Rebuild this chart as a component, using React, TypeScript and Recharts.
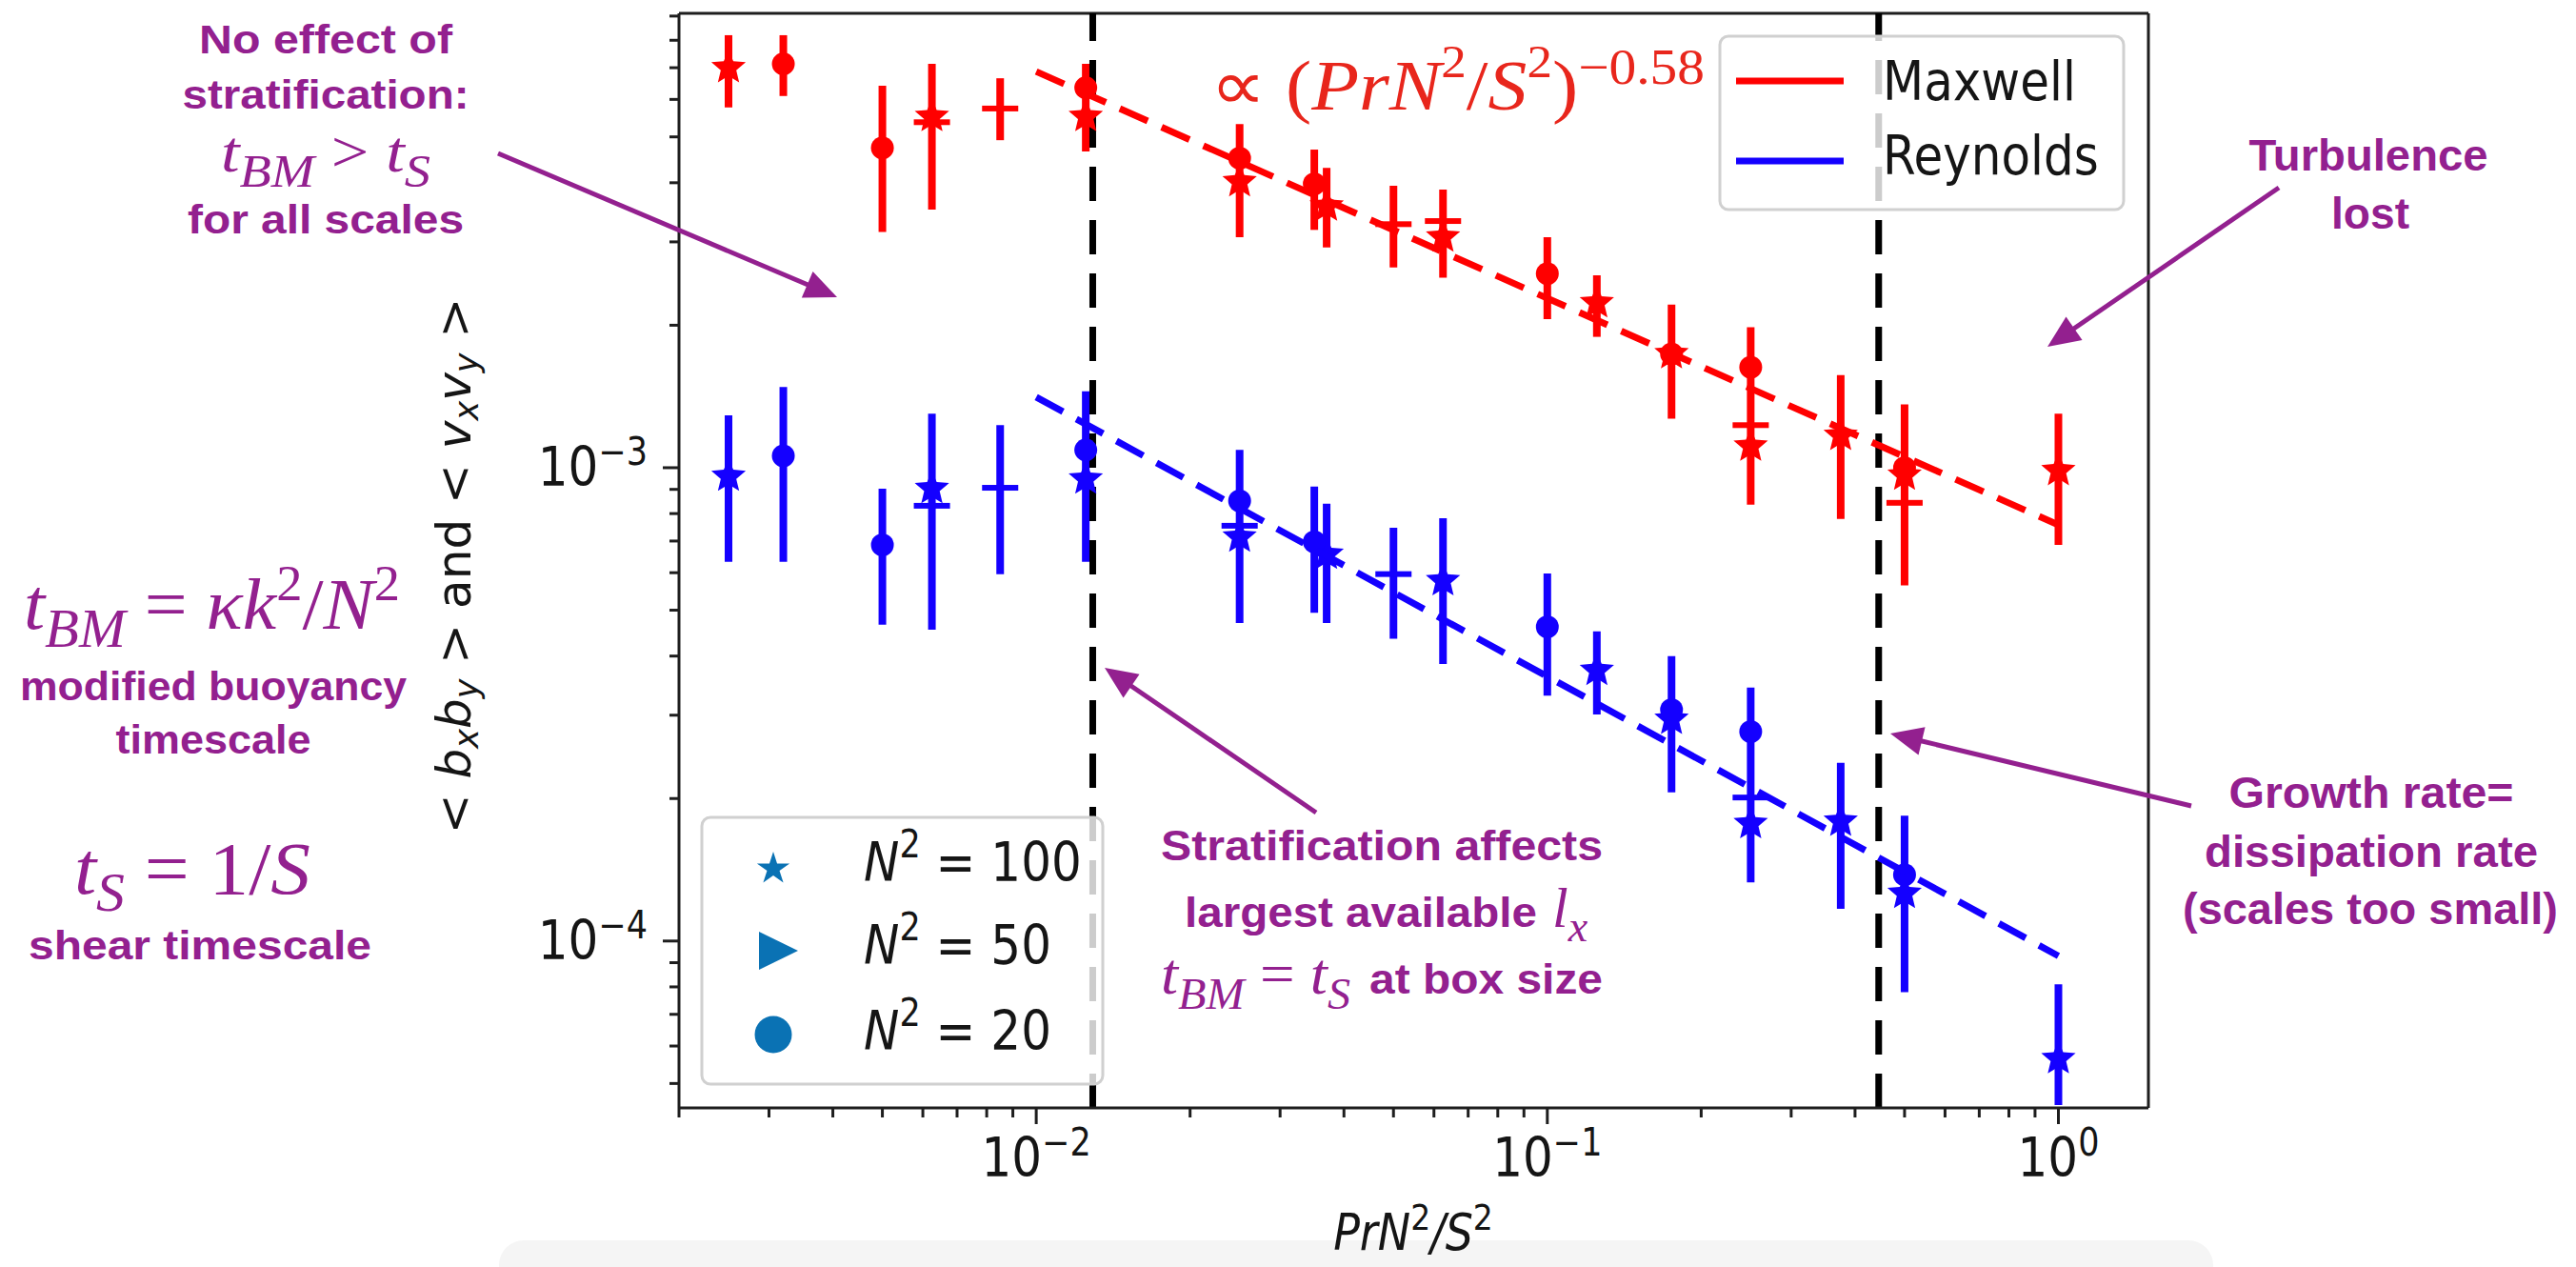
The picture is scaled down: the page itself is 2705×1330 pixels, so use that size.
import React from "react";
import { ComposedChart, Scatter, XAxis, YAxis, ErrorBar, ReferenceLine } from "recharts";

// axis ranges and tick values (log axes)
const xDomain: [number, number] = [0.002, 1.5];
const yDomain: [number, number] = [4.44e-5, 9.12e-3];
const xTicks = [
  0.002, 0.003, 0.004, 0.005, 0.006, 0.007, 0.008, 0.009, 0.01,
  0.02, 0.03, 0.04, 0.05, 0.06, 0.07, 0.08, 0.09, 0.1,
  0.2, 0.3, 0.4, 0.5, 0.6, 0.7, 0.8, 0.9, 1,
];
const yTicks = [
  5e-5, 6e-5, 7e-5, 8e-5, 9e-5, 1e-4,
  2e-4, 3e-4, 4e-4, 5e-4, 6e-4, 7e-4, 8e-4, 9e-4, 1e-3,
  2e-3, 3e-3, 4e-3, 5e-3, 6e-3, 7e-3, 8e-3, 9e-3,
];

// x positions of the error bars (Pr N^2 / S^2)
const ratio = [0.0025, 0.0032, 0.005, 0.00625, 0.0085, 0.0125, 0.025, 0.035, 0.037, 0.05, 0.0625, 0.1, 0.125, 0.175, 0.25, 0.375, 0.5, 1.0];
const maxwellLow = [5.77e-3, 6.1e-3, 3.15e-3, 3.51e-3, 4.92e-3, 4.66e-3, 3.07e-3, 3.18e-3, 2.92e-3, 2.65e-3, 2.52e-3, 2.06e-3, 1.89e-3, 1.27e-3, 8.35e-4, 7.79e-4, 5.64e-4, 6.87e-4];
const maxwellHigh = [8.2e-3, 8.2e-3, 6.41e-3, 7.13e-3, 6.65e-3, 7.13e-3, 5.32e-3, 4.7e-3, 4.3e-3, 3.94e-3, 3.87e-3, 3.07e-3, 2.55e-3, 2.21e-3, 1.98e-3, 1.57e-3, 1.36e-3, 1.3e-3];
const reynoldsLow = [6.33e-4, 6.33e-4, 4.66e-4, 4.55e-4, 5.96e-4, 6.33e-4, 4.7e-4, 4.94e-4, 4.7e-4, 4.35e-4, 3.85e-4, 3.3e-4, 3.01e-4, 2.06e-4, 1.33e-4, 1.17e-4, 7.8e-5, 4.5e-5];
const reynoldsHigh = [1.29e-3, 1.48e-3, 9.03e-4, 1.3e-3, 1.23e-3, 1.45e-3, 1.09e-3, 9.12e-4, 8.39e-4, 7.47e-4, 7.82e-4, 5.98e-4, 4.51e-4, 4e-4, 3.43e-4, 2.38e-4, 1.84e-4, 8.1e-5];

// markers: stars N^2=100, dashes N^2=50, circles N^2=20
const maxwellStars = [
  { x: 0.0025, y: 7.0e-3 }, { x: 0.00625, y: 5.52e-3 }, { x: 0.0125, y: 5.52e-3 }, { x: 0.025, y: 4.02e-3 },
  { x: 0.037, y: 3.57e-3 }, { x: 0.0625, y: 3.07e-3 }, { x: 0.125, y: 2.23e-3 }, { x: 0.175, y: 1.74e-3 },
  { x: 0.25, y: 1.11e-3 }, { x: 0.375, y: 1.17e-3 }, { x: 0.5, y: 9.64e-4 }, { x: 1.0, y: 9.86e-4 },
];
const maxwellCircles = [
  { x: 0.0032, y: 7.13e-3 }, { x: 0.005, y: 4.74e-3 }, { x: 0.0125, y: 6.35e-3 }, { x: 0.025, y: 4.51e-3 },
  { x: 0.035, y: 3.98e-3 }, { x: 0.1, y: 2.57e-3 }, { x: 0.175, y: 1.74e-3 }, { x: 0.25, y: 1.63e-3 }, { x: 0.5, y: 1.0e-3 },
];
const maxwellDashes = [
  { x: 0.00625, y: 5.37e-3 }, { x: 0.0085, y: 5.74e-3 }, { x: 0.05, y: 3.27e-3 }, { x: 0.0625, y: 3.32e-3 },
  { x: 0.25, y: 1.23e-3 }, { x: 0.5, y: 8.43e-4 },
];
const reynoldsStars = [
  { x: 0.0025, y: 9.59e-4 }, { x: 0.00625, y: 9.03e-4 }, { x: 0.0125, y: 9.46e-4 }, { x: 0.025, y: 7.13e-4 },
  { x: 0.037, y: 6.56e-4 }, { x: 0.0625, y: 5.77e-4 }, { x: 0.125, y: 3.73e-4 }, { x: 0.175, y: 2.94e-4 },
  { x: 0.25, y: 1.77e-4 }, { x: 0.375, y: 1.79e-4 }, { x: 0.5, y: 1.26e-4 }, { x: 1.0, y: 5.64e-5 },
];
const reynoldsCircles = [
  { x: 0.0032, y: 1.06e-3 }, { x: 0.005, y: 6.87e-4 }, { x: 0.0125, y: 1.09e-3 }, { x: 0.025, y: 8.51e-4 },
  { x: 0.035, y: 6.97e-4 }, { x: 0.1, y: 4.61e-4 }, { x: 0.175, y: 3.08e-4 }, { x: 0.25, y: 2.77e-4 }, { x: 0.5, y: 1.38e-4 },
];
const reynoldsDashes = [
  { x: 0.00625, y: 8.31e-4 }, { x: 0.0085, y: 9.07e-4 }, { x: 0.025, y: 7.54e-4 }, { x: 0.05, y: 5.96e-4 }, { x: 0.25, y: 2.01e-4 },
];

// power-law fits and regime boundaries
const maxwellFit = [{ x: 0.01, y: 6.87e-3 }, { x: 1, y: 7.57e-4 }];
const reynoldsFit = [{ x: 0.01, y: 1.41e-3 }, { x: 1, y: 9.3e-5 }];
const regimeBounds = [0.0129, 0.445];

const RED = "#ff0000";
const BLUE = "#1400ff";
const PURPLE = "#93208f";
const LEGEND_BLUE = "#0a72b4";
const AXIS = "#1e1e1e";

const toBars = (lo: number[], hi: number[]) =>
  ratio.map((x, i) => {
    const y = Math.sqrt(lo[i] * hi[i]);
    return { x, y, err: [y - lo[i], hi[i] - y] };
  });

const starPath = (cx: number, cy: number, R: number, k = 0.382) => {
  const r = R * k;
  const pts: string[] = [];
  for (let i = 0; i < 10; i++) {
    const a = -Math.PI / 2 + (i * Math.PI) / 5;
    const rr = i % 2 === 0 ? R : r;
    pts.push(`${cx + rr * Math.cos(a)},${cy + rr * Math.sin(a)}`);
  }
  return "M" + pts.join("L") + "Z";
};

const starShape = (color: string) => (p: any) => <path d={starPath(p.cx, p.cy, 19, 0.45)} fill={color} />;
const circleShape = (color: string) => (p: any) => <circle cx={p.cx} cy={p.cy} r={12} fill={color} />;
const dashShape = (color: string) => (p: any) => <rect x={p.cx - 19} y={p.cy - 3} width={38} height={6} fill={color} />;
const noShape = () => <g />;

const MplText = ({ x, y, anchor = "start", size = 50, children }: any) => (
  <text transform={`translate(${x},${y}) scale(1,1.15)`} textAnchor={anchor} fontFamily="'DejaVu Sans', sans-serif" fontSize={size} fill="#151515">
    {children}
  </text>
);

const isMajor = (v: number) => Math.abs(Math.log10(v) - Math.round(Math.log10(v))) < 1e-6;
const expLabel = (v: number) => {
  const e = Math.round(Math.log10(v));
  return e < 0 ? "\u2212" + Math.abs(e) : String(e);
};

const XTick = (props: any) => {
  const { x, y, payload } = props;
  const major = isMajor(payload.value);
  return (
    <g>
      <line x1={x} x2={x} y1={y} y2={y + (major ? 17 : 10)} stroke={AXIS} strokeWidth={3} />
      {major && (
        <MplText x={x} y={y + 72} anchor="middle">
          10<tspan dy={-19} fontSize={35}>{expLabel(payload.value)}</tspan>
        </MplText>
      )}
    </g>
  );
};

const YTick = (props: any) => {
  const { x, y, payload } = props;
  const major = isMajor(payload.value);
  return (
    <g>
      <line x1={x} x2={x - (major ? 17 : 10)} y1={y} y2={y} stroke={AXIS} strokeWidth={3} />
      {major && (
        <MplText x={x - 33} y={y + 19} anchor="end">
          10<tspan dy={-19} fontSize={35}>{expLabel(payload.value)}</tspan>
        </MplText>
      )}
    </g>
  );
};

const Arrow = ({ x1, y1, x2, y2 }: any) => {
  const dx = x2 - x1, dy = y2 - y1;
  const L = Math.hypot(dx, dy);
  const ux = dx / L, uy = dy / L;
  const hl = 34, hw = 15;
  const bx = x2 - ux * hl, by = y2 - uy * hl;
  return (
    <g>
      <line x1={x1} y1={y1} x2={bx + ux * 4} y2={by + uy * 4} stroke={PURPLE} strokeWidth={5} />
      <polygon points={`${x2},${y2} ${bx - uy * hw},${by + ux * hw} ${bx + uy * hw},${by - ux * hw}`} fill={PURPLE} />
    </g>
  );
};

const Note = ({ x, y, w, size = 42, anchor = "middle", children }: any) => (
  <text x={x} y={y} textAnchor={anchor} textLength={w} lengthAdjust="spacingAndGlyphs" fontFamily="'Liberation Sans', Arial, sans-serif" fontWeight={700} fontSize={size} fill={PURPLE}>
    {children}
  </text>
);

const SERIF = "'Liberation Serif', 'Times New Roman', serif";

export default function App() {
  const maxwellBars = toBars(maxwellLow, maxwellHigh);
  const reynoldsBars = toBars(reynoldsLow, reynoldsHigh);

  return (
    <div style={{ position: "absolute", left: 0, top: 0, width: 2705, height: 1330, background: "#fff", overflow: "hidden" }}>
      <svg width={2705} height={1330} style={{ position: "absolute", left: 0, top: 0 }}>
        <rect x={524} y={1302} width={1800} height={80} rx={26} fill="#f5f5f5" />
      </svg>
      <div style={{ position: "absolute", left: 0, top: 0 }}>
        <ComposedChart width={2705} height={1330} margin={{ top: 14, right: 449, left: 613, bottom: 107 }}>
          <XAxis
            dataKey="x"
            type="number"
            scale="log"
            domain={xDomain}
            allowDataOverflow
            ticks={xTicks}
            interval={0}
            tick={<XTick />}
            tickLine={false}
            tickSize={0}
            tickMargin={0}
            height={60}
            axisLine={{ stroke: AXIS, strokeWidth: 3 }}
          />
          <YAxis
            dataKey="y"
            type="number"
            scale="log"
            domain={yDomain}
            allowDataOverflow
            ticks={yTicks}
            interval={0}
            tick={<YTick />}
            tickLine={false}
            tickSize={0}
            tickMargin={0}
            width={100}
            axisLine={{ stroke: AXIS, strokeWidth: 3 }}
          />
          <ReferenceLine y={yDomain[1]} stroke={AXIS} strokeWidth={3} />
          <ReferenceLine x={xDomain[1]} stroke={AXIS} strokeWidth={3} />

          <Scatter data={maxwellBars} fill={RED} shape={noShape} isAnimationActive={false} legendType="none">
            <ErrorBar dataKey="err" direction="y" width={0} stroke={RED} strokeWidth={8} isAnimationActive={false} />
          </Scatter>
          <Scatter data={reynoldsBars} fill={BLUE} shape={noShape} isAnimationActive={false} legendType="none">
            <ErrorBar dataKey="err" direction="y" width={0} stroke={BLUE} strokeWidth={8} isAnimationActive={false} />
          </Scatter>

          <Scatter data={maxwellStars} shape={starShape(RED)} isAnimationActive={false} />
          <Scatter data={maxwellCircles} shape={circleShape(RED)} isAnimationActive={false} />
          <Scatter data={maxwellDashes} shape={dashShape(RED)} isAnimationActive={false} />
          <Scatter data={reynoldsStars} shape={starShape(BLUE)} isAnimationActive={false} />
          <Scatter data={reynoldsCircles} shape={circleShape(BLUE)} isAnimationActive={false} />
          <Scatter data={reynoldsDashes} shape={dashShape(BLUE)} isAnimationActive={false} />

          <Scatter data={maxwellFit} fill={RED} shape={noShape} line={{ stroke: RED, strokeWidth: 7, strokeDasharray: "32 16" }} isAnimationActive={false} />
          <Scatter data={reynoldsFit} fill={BLUE} shape={noShape} line={{ stroke: BLUE, strokeWidth: 7, strokeDasharray: "32 16" }} isAnimationActive={false} />

          {regimeBounds.map((b) => (
            <ReferenceLine key={b} x={b} stroke="#000" strokeWidth={7} strokeDasharray="36 20" />
          ))}
        </ComposedChart>
      </div>

      <svg width={2705} height={1330} style={{ position: "absolute", left: 0, top: 0, pointerEvents: "none" }}>
        {/* axis labels */}
        <text transform="translate(494,594) rotate(-90)" textAnchor="middle" fontFamily="'DejaVu Sans', sans-serif" fontSize={50} fill="#151515">
          {"< "}<tspan fontStyle="italic">b</tspan><tspan fontStyle="italic" fontSize={35} dy={8}>x</tspan>
          <tspan fontStyle="italic" dy={-8}>b</tspan><tspan fontStyle="italic" fontSize={35} dy={8}>y</tspan>
          <tspan dy={-8}>{" > and < "}</tspan><tspan fontStyle="italic">v</tspan><tspan fontStyle="italic" fontSize={35} dy={8}>x</tspan>
          <tspan fontStyle="italic" dy={-8}>v</tspan><tspan fontStyle="italic" fontSize={35} dy={8}>y</tspan>
          <tspan dy={-8}>{" >"}</tspan>
        </text>
        <MplText x={1484} y={1312} anchor="middle" size={46}>
          <tspan fontStyle="italic">PrN</tspan><tspan fontSize={33} dy={-18}>2</tspan>
          <tspan fontStyle="italic" dy={18}>/S</tspan><tspan fontSize={33} dy={-18}>2</tspan>
        </MplText>

        {/* legend: field */}
        <rect x={1806} y={38} width={424} height={182} rx={9} fill="#fff" fillOpacity={0.8} stroke="#d0d0d0" strokeWidth={3} />
        <line x1={1823} x2={1936} y1={85} y2={85} stroke={RED} strokeWidth={7} />
        <line x1={1823} x2={1936} y1={169} y2={169} stroke={BLUE} strokeWidth={7} />
        <MplText x={1977} y={105}>Maxwell</MplText>
        <MplText x={1977} y={183}>Reynolds</MplText>

        {/* legend: stratification */}
        <rect x={737} y={858} width={421} height={280} rx={9} fill="#fff" fillOpacity={0.8} stroke="#d0d0d0" strokeWidth={3} />
        <path d={starPath(812, 912, 18)} fill={LEGEND_BLUE} />
        <polygon points="797,978 838,998 797,1018" fill={LEGEND_BLUE} />
        <circle cx={812} cy={1086} r={19.5} fill={LEGEND_BLUE} />
        {[["100", 925], ["50", 1012], ["20", 1102]].map(([v, y]) => (
          <MplText key={v} x={907} y={y}>
            <tspan fontStyle="italic">N</tspan><tspan fontSize={35} dy={-22}>2</tspan>
            <tspan dy={22}>{" = " + v}</tspan>
          </MplText>
        ))}

        {/* fit annotation */}
        <text x={1271} y={115} textLength={519} lengthAdjust="spacingAndGlyphs" fontFamily={SERIF} fontSize={74} fill="#e8261c">
          {"\u221D ("}<tspan fontStyle="italic">PrN</tspan><tspan fontSize={48} dy={-34}>2</tspan>
          <tspan dy={34}>/</tspan><tspan fontStyle="italic">S</tspan><tspan fontSize={48} dy={-34}>2</tspan>
          <tspan dy={34}>)</tspan><tspan fontSize={52} dy={-27}>{"\u22120.58"}</tspan>
        </text>

        {/* upper-left note */}
        <Note x={342} y={56} w={266}>No effect of</Note>
        <Note x={342} y={114} w={301}>stratification:</Note>
        <text x={342} y={180} textAnchor="middle" textLength={220} lengthAdjust="spacingAndGlyphs" fontFamily={SERIF} fontSize={62} fill={PURPLE}>
          <tspan fontStyle="italic">t</tspan><tspan fontStyle="italic" fontSize={48} dy={16}>BM</tspan>
          <tspan dy={-16}>{" > "}</tspan><tspan fontStyle="italic">t</tspan><tspan fontStyle="italic" fontSize={48} dy={16}>S</tspan>
        </text>
        <Note x={342} y={245} w={290}>for all scales</Note>
        <Arrow x1={523} y1={161} x2={879} y2={312} />

        {/* timescales on the left */}
        <text x={25} y={660} textLength={395} lengthAdjust="spacingAndGlyphs" fontFamily={SERIF} fontSize={76} fill={PURPLE}>
          <tspan fontStyle="italic">t</tspan><tspan fontStyle="italic" fontSize={56} dy={19}>BM</tspan>
          <tspan dy={-19}>{" = "}</tspan><tspan fontStyle="italic">{"\u03BAk"}</tspan><tspan fontSize={52} dy={-30}>2</tspan>
          <tspan dy={30}>/</tspan><tspan fontStyle="italic">N</tspan><tspan fontSize={52} dy={-30}>2</tspan>
        </text>
        <Note x={224} y={735} w={406}>modified buoyancy</Note>
        <Note x={224} y={791} w={205}>timescale</Note>
        <text x={78} y={938} textLength={248} lengthAdjust="spacingAndGlyphs" fontFamily={SERIF} fontSize={78} fill={PURPLE}>
          <tspan fontStyle="italic">t</tspan><tspan fontStyle="italic" fontSize={56} dy={18}>S</tspan>
          <tspan dy={-18}>{" = 1/"}</tspan><tspan fontStyle="italic">S</tspan>
        </text>
        <Note x={210} y={1007} w={360}>shear timescale</Note>

        {/* box-size note */}
        <Note x={1451} y={903} w={464} size={44}>Stratification affects</Note>
        <Note x={1244} y={973} w={370} size={44} anchor="start">largest available</Note>
        <text x={1630} y={973} fontFamily={SERIF} fontSize={60} fill={PURPLE}>
          <tspan fontStyle="italic">l</tspan><tspan fontStyle="italic" fontSize={46} dy={15}>x</tspan>
        </text>
        <text x={1219} y={1043} textLength={199} lengthAdjust="spacingAndGlyphs" fontFamily={SERIF} fontSize={62} fill={PURPLE}>
          <tspan fontStyle="italic">t</tspan><tspan fontStyle="italic" fontSize={46} dy={16}>BM</tspan>
          <tspan dy={-16}>{" = "}</tspan><tspan fontStyle="italic">t</tspan><tspan fontStyle="italic" fontSize={46} dy={16}>S</tspan>
        </text>
        <Note x={1438} y={1043} w={245} size={44} anchor="start">at box size</Note>
        <Arrow x1={1382} y1={853} x2={1160} y2={701} />

        {/* right notes */}
        <Note x={2487} y={179} w={251} size={46}>Turbulence</Note>
        <Note x={2489} y={240} w={82} size={46}>lost</Note>
        <Arrow x1={2393} y1={197} x2={2150} y2={364} />

        <Note x={2490} y={848} w={299} size={46}>Growth rate=</Note>
        <Note x={2490} y={910} w={350} size={46}>dissipation rate</Note>
        <Note x={2489} y={970} w={394} size={46}>(scales too small)</Note>
        <Arrow x1={2301} y1={846} x2={1985} y2={770} />
      </svg>
    </div>
  );
}
